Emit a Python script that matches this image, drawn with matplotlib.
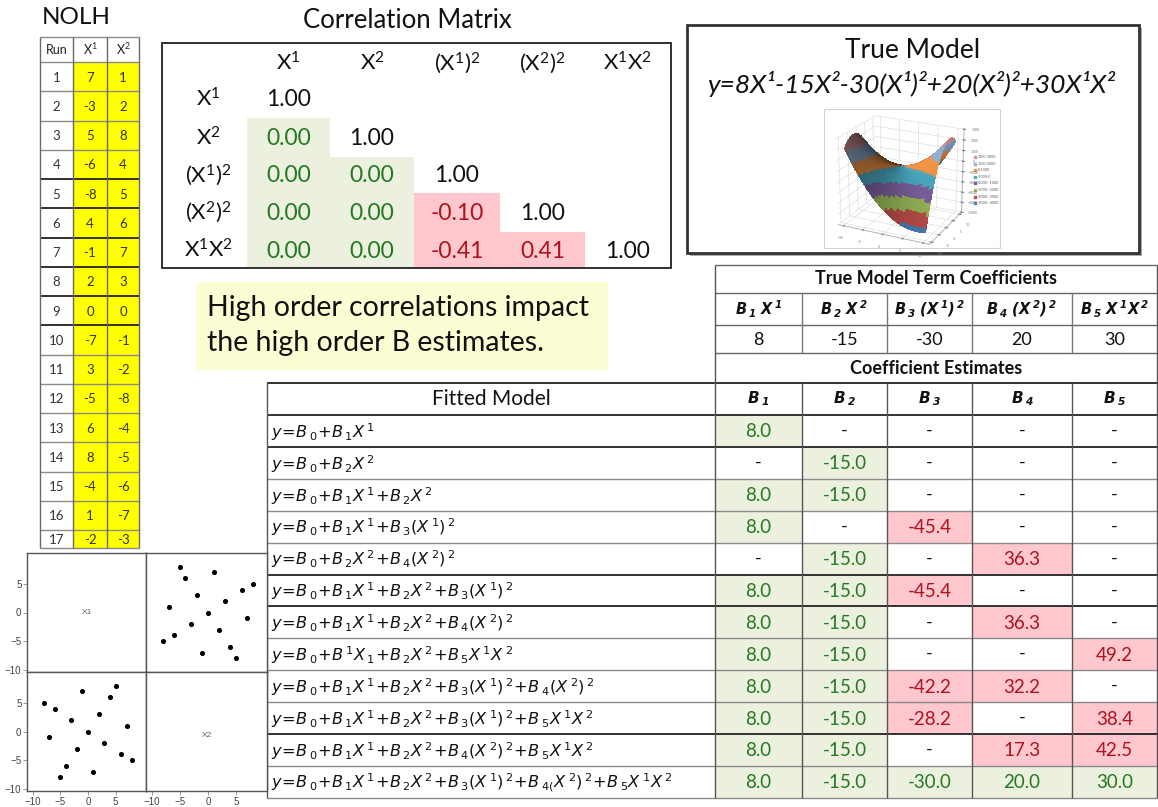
import re
import numpy as np
import matplotlib
matplotlib.use('Agg')
import matplotlib.pyplot as plt
from matplotlib.patches import Rectangle

plt.rcParams['font.family'] = ['Lato', 'DejaVu Sans']
plt.rcParams['mathtext.fontset'] = 'custom'
plt.rcParams['mathtext.rm'] = 'DejaVu Sans'
plt.rcParams['mathtext.it'] = 'DejaVu Sans:italic'
plt.rcParams['mathtext.bf'] = 'DejaVu Sans:italic:bold'
plt.rcParams['mathtext.sf'] = 'Lato'

W, H = 1158, 807

# ---------------- data ----------------
runs = list(range(1, 18))
x1 = [7, -3, 5, -6, -8, 4, -1, 2, 0, -7, 3, -5, 6, 8, -4, 1, -2]
x2 = [1, 2, 8, 4, 5, 6, 7, 3, 0, -1, -2, -8, -4, -5, -6, -7, -3]
nolh_header = ['Run', r'$\mathsf{X^1}$', r'$\mathsf{X^2}$']

corr_labels = [r'$\mathsf{X^1}$', r'$\mathsf{X^2}$', r'$\mathsf{(X^1)^2}$',
               r'$\mathsf{(X^2)^2}$', r'$\mathsf{X^1X^2}$']
corr_rows = [[1.00],
             [0.00, 1.00],
             [0.00, 0.00, 1.00],
             [0.00, 0.00, -0.10, 1.00],
             [0.00, 0.00, -0.41, 0.41, 1.00]]

true_terms = [r'B_1\ X^1', r'B_2\ X^2', r'B_3\ (X^1)^2', r'B_4\ (X^2)^2', r'B_5\ X^1X^2']
true_coef = [8, -15, -30, 20, 30]
est_headers = ['B_1', 'B_2', 'B_3', 'B_4', 'B_5']

fitted_models = [
    r'y=B_0+B_1X^1',
    r'y=B_0+B_2X^2',
    r'y=B_0+B_1X^1+B_2X^2',
    r'y=B_0+B_1X^1+B_3(X^1)^2',
    r'y=B_0+B_2X^2+B_4(X^2)^2',
    r'y=B_0+B_1X^1+B_2X^2+B_3(X^1)^2',
    r'y=B_0+B_1X^1+B_2X^2+B_4(X^2)^2',
    r'y=B_0+B^1X_1+B_2X^2+B_5X^1X^2',
    r'y=B_0+B_1X^1+B_2X^2+B_3(X^1)^2+B_4(X^2)^2',
    r'y=B_0+B_1X^1+B_2X^2+B_3(X^1)^2+B_5X^1X^2',
    r'y=B_0+B_1X^1+B_2X^2+B_4(X^2)^2+B_5X^1X^2',
    r'y=B_0+B_1X^1+B_2X^2+B_3(X^1)^2+B_{\:4(}X^2)^2+B_5X^1X^2',
]
estimates = [
    [8.0, None, None, None, None],
    [None, -15.0, None, None, None],
    [8.0, -15.0, None, None, None],
    [8.0, None, -45.4, None, None],
    [None, -15.0, None, 36.3, None],
    [8.0, -15.0, -45.4, None, None],
    [8.0, -15.0, None, 36.3, None],
    [8.0, -15.0, None, None, 49.2],
    [8.0, -15.0, -42.2, 32.2, None],
    [8.0, -15.0, -28.2, None, 38.4],
    [8.0, -15.0, None, 17.3, 42.5],
    [8.0, -15.0, -30.0, 20.0, 30.0],
]

callout_lines = ['High order correlations impact', 'the high order B estimates.']
true_model_eq = 'y=8X¹-15X²-30(X¹)²+20(X²)²+30X¹X²'

band_labels = ['-5000--4000', '-4000--3000', '-3000--2000', '-2000--1000',
               '-1000-0', '0-1000', '1000-2000', '2000-3000']
band_colors = ['#4F81BD', '#C0504D', '#9BBB59', '#8064A2',
               '#4BACC6', '#F79646', '#95B3D7', '#D99694']

GREEN_FILL, GREEN_TXT = '#EBF1DE', '#23791F'
RED_FILL, RED_TXT = '#FFC7CE', '#B0121C'


def mt(s):
    s = s.replace('=', r'\!=\!').replace('+', r'\!+\!')
    s = re.sub(r'([_^])(\w)', r'\1{\\:\2}', s)
    return '$' + s + '$'


def box(ax, x0, y0, x1, y1, fc='none', ec='none', lw=1.0, z=1):
    ax.add_patch(Rectangle((x0, y0), x1 - x0, y1 - y0, facecolor=fc,
                           edgecolor=ec, linewidth=lw, zorder=z))


def hline(ax, y, xa, xb, color='#8a8a8a', lw=1.0):
    ax.plot([xa, xb], [y, y], color=color, lw=lw, zorder=3, solid_capstyle='butt')


def vline(ax, x, ya, yb, color='#8a8a8a', lw=1.0):
    ax.plot([x, x], [ya, yb], color=color, lw=lw, zorder=3, solid_capstyle='butt')


def px_axes(fig, x0, y0, x1, y1, **kw):
    return fig.add_axes([x0 / W, 1 - y1 / H, (x1 - x0) / W, (y1 - y0) / H], **kw)


fig = plt.figure(figsize=(W / 100, H / 100), dpi=100)
ax = fig.add_axes([0, 0, 1, 1])
ax.set_xlim(0, W)
ax.set_ylim(H, 0)
ax.axis('off')

# ---------------- NOLH table ----------------
ax.text(76, 18, 'NOLH', ha='center', va='center', fontsize=17.5, color='#111')
ncols = [40, 73, 107, 139]
nrows = [37, 62] + [62 + 29.25 * i for i in range(1, 17)] + [548]
for i in range(17):
    box(ax, ncols[1], nrows[i + 1], ncols[3], nrows[i + 2], fc='#FFFF00')
for j, lab in enumerate(nolh_header):
    ax.text((ncols[j] + ncols[j + 1]) / 2, (nrows[0] + nrows[1]) / 2, lab,
            ha='center', va='center', fontsize=9, color='#222')
for i in range(17):
    yc = (nrows[i + 1] + nrows[i + 2]) / 2 + 1
    for j, v in enumerate([runs[i], x1[i], x2[i]]):
        ax.text((ncols[j] + ncols[j + 1]) / 2, yc, str(v), ha='center', va='center',
                fontsize=9.5, color='#333')
for k, y in enumerate(nrows):
    dark = 5 <= k <= 10
    hline(ax, y, ncols[0], ncols[3], color='#111' if dark else '#8a8a8a', lw=1.2 if dark else 1.0)
for x in ncols:
    vline(ax, x, nrows[0], nrows[-1], color='#6a6a6a')

# ---------------- scatter matrix ----------------
panels = {'tl': (27, 553, 146, 672), 'tr': (146, 553, 267, 672),
          'bl': (27, 672, 146, 791), 'br': (146, 672, 267, 791)}
for key, (a, b, c, d) in panels.items():
    sa = px_axes(fig, a, b, c, d)
    sa.set_xlim(-11, 10.5)
    sa.set_ylim(-10.4, 10.4)
    for sp in sa.spines.values():
        sp.set_color('#555')
        sp.set_linewidth(1.0)
    sa.tick_params(length=3, width=0.6, color='#888', labelsize=7, labelcolor='#444', pad=1)
    sa.set_xticks([-10, -5, 0, 5])
    sa.set_yticks([-10, -5, 0, 5])
    for lab in sa.get_xticklabels() + sa.get_yticklabels():
        lab.set_family('Liberation Sans')
    if key in ('tr', 'br'):
        sa.tick_params(axis='y', left=False, labelleft=False)
    if key in ('tl', 'tr'):
        sa.tick_params(axis='x', bottom=False, labelbottom=False)
    if key == 'tl':
        sa.text(0.5, 0.5, 'X1', transform=sa.transAxes, ha='center', va='center',
                fontsize=6, color='#666', family='Liberation Sans')
    if key == 'br':
        sa.text(0.5, 0.47, 'X2', transform=sa.transAxes, ha='center', va='center',
                fontsize=6, color='#666', family='Liberation Sans')
    if key == 'tr':
        sa.scatter(x2, x1, s=7, color='black', zorder=3)
    if key == 'bl':
        sa.scatter(x1, x2, s=7, color='black', zorder=3)

# ---------------- correlation matrix ----------------
ax.text(407, 21, 'Correlation Matrix', ha='center', va='center', fontsize=18.5, color='#111')
box(ax, 162, 43, 671, 268, ec='#222', lw=1.3, z=4)
cb = [247, 330, 414, 500, 585, 670]
rb = [80, 118, 157, 193, 232, 268]
for j, lab in enumerate(corr_labels):
    ax.text((cb[j] + cb[j + 1]) / 2, 63, lab, ha='center', va='center', fontsize=16, color='#111')
for i, row in enumerate(corr_rows):
    yc = (rb[i] + rb[i + 1]) / 2
    ax.text(208, yc, corr_labels[i], ha='center', va='center', fontsize=16, color='#111')
    for j, v in enumerate(row):
        xc = (cb[j] + cb[j + 1]) / 2
        col = '#111'
        if j < i:
            fc, col = (GREEN_FILL, GREEN_TXT) if v == 0 else (RED_FILL, RED_TXT)
            box(ax, cb[j], rb[i], cb[j + 1], rb[i + 1], fc=fc)
        ax.text(xc, yc + 1, '%.2f' % v, ha='center', va='center', fontsize=16.5, color=col)

# ---------------- callout ----------------
box(ax, 196, 282, 608, 370, fc='#FCFDD3')
for k, line in enumerate(callout_lines):
    ax.text(207, 308 + 35 * k, line, ha='left', va='center', fontsize=20.5, color='#111')

# ---------------- true model box ----------------
box(ax, 690, 28, 1142, 256, fc='#a8a8a8', z=1)
box(ax, 687, 25, 1139, 253, fc='white', ec='#333', lw=2, z=2)
ax.text(913, 51, 'True Model', ha='center', va='center', fontsize=19, color='#111', zorder=5)
ax.text(911, 84, true_model_eq, ha='center', va='center', fontsize=19, style='italic',
        color='#111', zorder=5)
box(ax, 824, 109, 1000, 248, fc='white', ec='#d0d0d0', lw=0.8, z=5)
for k in range(len(band_labels)):
    yk = 157 + 6.6 * (len(band_labels) - 1 - k)
    ax.scatter([975], [yk], s=2, marker='s', color=band_colors[k], zorder=6)
    ax.text(978, yk, band_labels[k], fontsize=2.6, va='center', color='#555', zorder=6)

ax3 = px_axes(fig, 826, 106, 972, 252, projection='3d')
ax3.set_facecolor('none')
g = np.linspace(-10, 10, 41)
A, Bm = np.meshgrid(g, g)
Z = (true_coef[0] * Bm + true_coef[1] * A + true_coef[2] * Bm ** 2
     + true_coef[3] * A ** 2 + true_coef[4] * Bm * A)
band = np.clip(((Z + 5000) // 1000).astype(int), 0, 7)
fcols = np.array([matplotlib.colors.to_rgba(band_colors[b]) for b in band.ravel()]).reshape(Z.shape + (4,))
ax3.plot_surface(A, Bm, Z, facecolors=fcols, linewidth=0, antialiased=False, shade=True)
ax3.set_zlim(-5000, 3000)
ax3.set_zticks(range(-5000, 3001, 1000))
ax3.set_xticks([-10, -5, 0, 5, 10])
ax3.set_yticks([-10, -5, 0, 5, 10])
ax3.tick_params(labelsize=2.5, colors='#777', pad=-3)
for axis in (ax3.xaxis, ax3.yaxis, ax3.zaxis):
    axis.set_pane_color((1, 1, 1, 0))
    axis._axinfo['grid']['color'] = '#d8d8d8'
    axis._axinfo['grid']['linewidth'] = 0.4
    axis.line.set_color('#bbb')
ax3.set_box_aspect((1.1, 0.9, 1.0), zoom=1.05)
ax3.view_init(elev=22, azim=-64)

# ---------------- coefficient tables ----------------
cx = [715, 802, 887, 972, 1072, 1157]
ry = [415 + 31.9 * i for i in range(13)]

ax.text((cx[0] + cx[-1]) / 2, 279, 'True Model Term Coefficients', ha='center', va='center',
        fontsize=13, fontweight='bold', color='#111')
for j in range(5):
    xc = (cx[j] + cx[j + 1]) / 2
    ax.text(xc, 309, mt(r'\mathbf{' + true_terms[j] + '}'), ha='center', va='center',
            fontsize=10.5, color='#111')
    ax.text(xc, 340, str(true_coef[j]), ha='center', va='center', fontsize=13, color='#111')
    ax.text(xc, 399, mt(r'\mathbf{' + est_headers[j] + '}'), ha='center', va='center',
            fontsize=11, color='#111')
ax.text((cx[0] + cx[-1]) / 2, 368, 'Coefficient Estimates', ha='center', va='center',
        fontsize=13, fontweight='bold', color='#111')
ax.text((267 + 715) / 2, 399, 'Fitted Model', ha='center', va='center', fontsize=15, color='#111')

for i, model in enumerate(fitted_models):
    yc = (ry[i] + ry[i + 1]) / 2
    ax.text(271, yc + 1, mt(model), ha='left', va='center', fontsize=11.6, color='#111')
    for j, v in enumerate(estimates[i]):
        xc = (cx[j] + cx[j + 1]) / 2
        if v is None:
            ax.text(xc, yc, '-', ha='center', va='center', fontsize=13, color='#111')
            continue
        if v == true_coef[j]:
            fc, col = GREEN_FILL, GREEN_TXT
        else:
            fc, col = RED_FILL, RED_TXT
        box(ax, cx[j], ry[i], cx[j + 1], ry[i + 1], fc=fc)
        ax.text(xc, yc + 1, '%.1f' % v, ha='center', va='center', fontsize=13.5, color=col)

# grid lines
for y in [265, 293, 325, 353]:
    hline(ax, y, cx[0], cx[-1], color='#666')
hline(ax, 383, 267, cx[-1], color='#222', lw=1.3)
thick = [0, 1, 5, 6, 10]
for k, y in enumerate(ry):
    dark = k in thick
    hline(ax, y, 267, cx[-1], color='#222' if dark else '#8a8a8a', lw=1.3 if dark else 1.0)
vline(ax, cx[0], 265, ry[-1], color='#555')
vline(ax, cx[-1], 265, ry[-1], color='#555')
vline(ax, 267, 383, ry[-1], color='#555')
for x in cx[1:-1]:
    vline(ax, x, 293, 353, color='#777')
    vline(ax, x, 383, ry[-1], color='#555')

fig.savefig('out.png', dpi=100)
